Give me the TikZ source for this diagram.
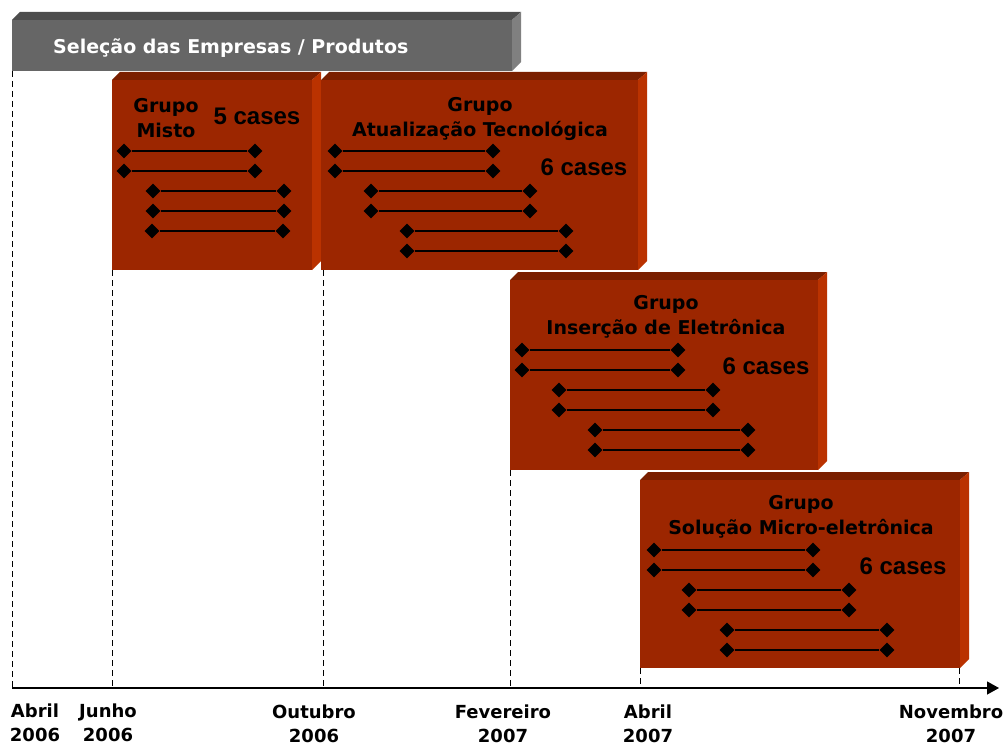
\documentclass[tikz,border=0pt]{standalone}
\usepackage{fontspec}
\setmainfont{DejaVu Sans}
\newfontfamily\arialb{Liberation Sans}
\usetikzlibrary{arrows.meta,shapes.geometric}
\definecolor{boxfront}{RGB}{156,38,0}
\definecolor{boxtop}{RGB}{122,31,0}
\definecolor{boxside}{RGB}{186,50,0}
\definecolor{barfront}{RGB}{102,102,102}
\definecolor{bartop}{RGB}{77,77,77}
\definecolor{barside}{RGB}{128,128,128}
\tikzset{
  dmd/.style={diamond,fill=black,draw=none,inner sep=0pt,minimum width=15pt,minimum height=15pt},
  seg/.style={line width=1.8pt},
  guide/.style={line width=0.8pt,dash pattern=on 6pt off 4pt},
  ttl/.style={font=\bfseries\fontsize{19}{25}\selectfont,text=black,align=center,inner sep=0pt},
  cases/.style={font=\arialb\bfseries\fontsize{24}{28}\selectfont,text=black,inner sep=0pt},
  datelbl/.style={font=\bfseries\fontsize{18}{24}\selectfont,align=center,inner sep=0pt}
}
% block: x1 y1 x2 y2 (front face), fill colours
\newcommand\myblock[7]{%
  \fill[#7] (#1,#2) -- (#1+8,#2-8) -- (#3+9,#2-8) -- (#3,#2) -- cycle;
  \fill[#6] (#3,#2) -- (#3+9,#2-8) -- (#3+9,#4-9) -- (#3,#4) -- cycle;
  \fill[#5] (#1,#2) rectangle (#3,#4);
}
\newcommand\segrow[4]{%
  \node[dmd] (#1s) at (#2,#4) {};
  \node[dmd] (#1e) at (#3,#4) {};
  \draw[seg] (#1s) -- (#1e);
}
\begin{document}
\begin{tikzpicture}[x=1pt,y=-1pt]
\useasboundingbox (0,0) rectangle (1006,746);
% guide lines
\draw[guide] (12,71) -- (12,688);
\draw[guide] (112,270) -- (112,688);
\draw[guide] (323,270) -- (323,688);
\draw[guide] (510,470) -- (510,688);
\draw[guide] (640,668) -- (640,688);
\draw[guide] (959,668) -- (959,688);
% top bar
\myblock{12}{20}{512}{71}{barfront}{barside}{bartop}
\node[font=\bfseries\fontsize{19}{23}\selectfont,text=white,anchor=west,inner sep=0pt] (sel) at (53,48) {Seleção das Empresas / Produtos};
% boxes
\myblock{112}{80}{312}{270}{boxfront}{boxside}{boxtop}
\myblock{321}{80}{638}{270}{boxfront}{boxside}{boxtop}
\myblock{510}{280}{818}{470}{boxfront}{boxside}{boxtop}
\myblock{640}{480}{960}{668}{boxfront}{boxside}{boxtop}
% box 1
\node[ttl] (g1) at (166,118) {Grupo\\Misto};
\node[cases] (c1) at (257,116) {5 cases};
\foreach \xa/\xb/\yy [count=\i] in {124/255/151,124/255/171,153/284/191,153/284/211,152/283/231}{
  \segrow{a\i}{\xa}{\xb}{\yy}
}
% box 2
\node[ttl] (g2) at (480,119) {Grupo\\Atualização Tecnológica};
\node[cases] (c2) at (584,167) {6 cases};
\foreach \xa/\xb/\yy [count=\i] in {335/493/151,335/493/171,371/530/191,371/530/211,407/566/231,407/566/251}{
  \segrow{b\i}{\xa}{\xb}{\yy}
}
% box 3
\node[ttl] (g3) at (666,317) {Grupo\\Inserção de Eletrônica};
\node[cases] (c3) at (766,366) {6 cases};
\foreach \xa/\xb/\yy [count=\i] in {522/678/350,522/678/370,559/713/390,559/713/410,595/748/430,595/748/450}{
  \segrow{c\i}{\xa}{\xb}{\yy}
}
% box 4
\node[ttl] (g4) at (801,517) {Grupo\\Solução Micro-eletrônica};
\node[cases] (c4) at (903,566) {6 cases};
\foreach \xa/\xb/\yy [count=\i] in {654/813/550,654/813/570,689/849/590,689/849/610,727/887/630,727/887/650}{
  \segrow{d\i}{\xa}{\xb}{\yy}
}
% axis
\coordinate (ax0) at (12,688);
\coordinate (ax1) at (999,688);
\draw[line width=1.2pt,-{Triangle[length=12pt,width=13pt]}] (ax0) -- (ax1);
% date labels
\node[datelbl] (d1) at (35,723) {Abril\\2006};
\node[datelbl] (d2) at (108,723) {Junho\\2006};
\node[datelbl] (d3) at (314,724) {Outubro\\2006};
\node[datelbl] (d4) at (503,724) {Fevereiro\\2007};
\node[datelbl] (d5) at (648,724) {Abril\\2007};
\node[datelbl] (d6) at (951,724) {Novembro\\2007};
\end{tikzpicture}
\end{document}
